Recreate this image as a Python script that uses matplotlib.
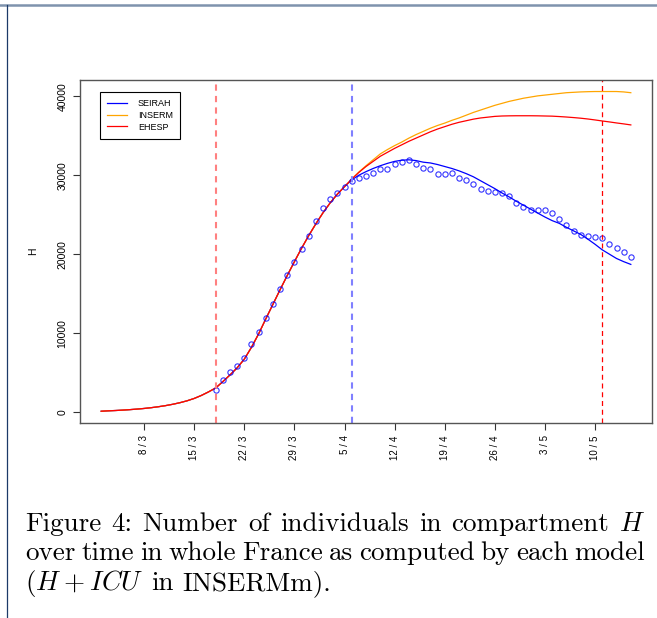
import numpy as np
import matplotlib
matplotlib.use("Agg")
import matplotlib.pyplot as plt
from matplotlib.lines import Line2D

# days counted from 1 March (day 0 = 1/3)
days = list(range(1, 76))

# common rising part of the three models (days 1..35)
early = [100, 150, 190, 240, 300, 370, 450, 550, 670, 810,
         980, 1180, 1420, 1720, 2100, 2550, 3050, 3850, 4700, 5600,
         6700, 8200, 9900, 11800, 13650, 15500, 17300, 19050, 20750, 22350,
         23850, 25250, 26500, 27600, 28550]

seirah = early + [29400, 30000, 30450, 30850, 31200, 31500, 31750, 31900, 31950, 31850,
                  31650, 31550, 31350, 31100, 30850, 30550, 30200, 29800, 29300, 28800,
                  28300, 27750, 27250, 26700, 26200, 25700, 25200, 24700, 24250, 23900,
                  23400, 22950, 22500, 21900, 21250, 20550, 20000, 19450, 19050, 18700]

inserm = early + [29500, 30400, 31200, 31950, 32700, 33250, 33750, 34200, 34700, 35150,
                  35550, 35950, 36300, 36600, 36950, 37250, 37600, 37950, 38250, 38550,
                  38850, 39100, 39350, 39550, 39750, 39900, 40050, 40150, 40250, 40350,
                  40450, 40500, 40550, 40580, 40600, 40600, 40600, 40600, 40550, 40450]

ehesp = early + [29500, 30350, 31100, 31750, 32400, 32900, 33400, 33850, 34300, 34700,
                 35100, 35500, 35850, 36150, 36450, 36700, 36900, 37100, 37250, 37350,
                 37450, 37500, 37520, 37530, 37530, 37530, 37520, 37500, 37480, 37430,
                 37370, 37300, 37220, 37120, 37000, 36870, 36750, 36620, 36500, 36370]

# observed H (days 17..75)
obs_days = list(range(17, 76))
obs = [2820, 4000, 5060, 5770, 6840, 8560, 10080, 11900, 13670, 15570,
       17340, 19030, 20670, 22350, 24250, 25820, 26960, 27720, 28480, 29230,
       29620, 29950, 30330, 30760, 30800, 31430, 31650, 31900, 31430, 30890,
       30800, 30200, 30200, 30250, 29700, 29370, 28860, 28300, 28010, 27830,
       27720, 27340, 26490, 26030, 25570, 25610, 25570, 25230, 24470, 23670,
       22910, 22440, 22350, 22230, 22030, 21270, 20840, 20250, 19660]

tick_days = [7, 14, 21, 28, 35, 42, 49, 56, 63, 70]
tick_labels = ["8 / 3", "15 / 3", "22 / 3", "29 / 3", "5 / 4",
               "12 / 4", "19 / 4", "26 / 4", "3 / 5", "10 / 5"]

lockdown_day = 17
change_day = 36
end_lockdown_day = 71

W, H = 657, 618
fig = plt.figure(figsize=(W / 100, H / 100), dpi=100)
plt.rcParams['mathtext.fontset'] = 'cm'

ax = fig.add_axes([80 / W, (H - 423) / H, 572 / W, 343 / H])
ax.plot(days, seirah, color='blue', lw=0.9, label='SEIRAH')
ax.plot(days, inserm, color='orange', lw=0.9, label='INSERM')
ax.plot(days, ehesp, color='red', lw=0.9, label='EHESP')
ax.plot(obs_days, obs, 'o', mfc='none', mec='blue', ms=3.8, mew=0.8, alpha=0.8)

ax.axvline(lockdown_day, color='#ff8080', lw=1.5, ls=(0, (3, 2.5)))
ax.axvline(change_day, color='#8080ff', lw=1.5, ls=(0, (3, 2.5)))
ax.axvline(end_lockdown_day, color='red', lw=0.9, ls=(0, (4, 3)))

ax.set_xlim(-1.96, 77.96)
ax.set_ylim(-1392, 42060)

ax.set_xticks(tick_days)
ax.set_xticklabels(tick_labels, rotation=90, fontsize=7, family='Liberation Sans')
ax.set_yticks([0, 10000, 20000, 30000, 40000])
ax.set_yticklabels(['0', '10000', '20000', '30000', '40000'], rotation=90,
                   va='center', fontsize=7.5, family='Liberation Sans')
ax.tick_params(direction='out', length=5, width=0.8, color='#333333', pad=4)
ax.set_ylabel('H', fontsize=7.5, family='Liberation Sans', labelpad=14)
for s in ax.spines.values():
    s.set_color('#555555')
    s.set_linewidth(1.0)

leg = ax.legend(loc='upper left', bbox_to_anchor=(0.035, 0.965), borderaxespad=0,
                prop={'family': 'Liberation Sans', 'size': 6.5}, fancybox=False,
                edgecolor='black', framealpha=1, handlelength=2.2,
                labelspacing=0.3, borderpad=0.8, handletextpad=1.2)
leg.get_frame().set_linewidth(0.8)

# page frame lines
fig.add_artist(Line2D([0, 1], [1 - 5 / H, 1 - 5 / H], color='#7f93ad', lw=1.8,
                      transform=fig.transFigure))
fig.add_artist(Line2D([6.5 / W, 6.5 / W], [0, 1 - 5 / H], color='#1c3a68', lw=0.9,
                      transform=fig.transFigure))

# caption, justified like the LaTeX page
cap_lines = [
    ["Figure", "4:", "Number", "of", "individuals", "in", "compartment", "$H$"],
    ["over", "time", "in", "whole", "France", "as", "computed", "by", "each", "model"],
    [r"$(H\:+\:ICU$", "in", "INSERMm)."],
]
cap_base = [531, 560, 590]
fs = 19.5
renderer = fig.canvas.get_renderer()
x0, x1 = 25, 645
for i, words in enumerate(cap_lines):
    ts = [fig.text(0, 1 - cap_base[i] / H, w, fontsize=fs, family='cmr10',
                   va='baseline', ha='left') for w in words]
    widths = [t.get_window_extent(renderer).width for t in ts]
    if i < len(cap_lines) - 1:
        gap = (x1 - x0 - sum(widths)) / (len(words) - 1)
    else:
        gap = fs * 100 / 72 * 0.3
    x = x0
    for t, w in zip(ts, widths):
        t.set_x(x / W)
        x += w + gap

fig.savefig('out.png', dpi=100)
